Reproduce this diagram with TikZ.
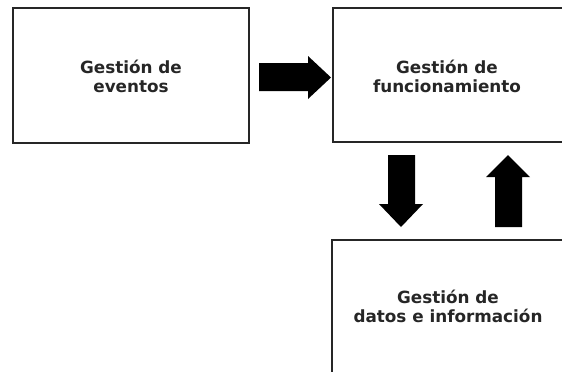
\documentclass[tikz,border=0pt]{standalone}
\usepackage{fontspec}
\setmainfont{DejaVu Sans}
\begin{document}
\begin{tikzpicture}[x=0.75pt,y=-0.75pt,
  box/.style={draw=black!85, line width=0.9pt, fill=white, rectangle, inner sep=0pt},
  label/.style={align=center, text=black!85, font=\bfseries\fontsize{12.6}{14.3}\selectfont, inner sep=0pt},
  blockarrow/.style={fill=black, draw=none}]
  \useasboundingbox (0,0) rectangle (562,372);
  \clip (0,0) rectangle (562,372);

  % three blocks (the two on the right run off the page)
  \node[box, minimum width=177pt, minimum height=101.25pt] (eventos) at (131,75.5) {};
  \node[box, minimum width=177.75pt, minimum height=100.5pt] (funcion) at (451.5,75) {};
  \node[box, minimum width=178.5pt, minimum height=105pt] (datos) at (451,310) {};

  \node[label] (teventos) at (131,76) {Gestión de\\eventos};
  \node[label] (tfuncion) at (447,76) {Gestión de\\funcionamiento};
  \node[label] (tdatos) at (448,306) {Gestión de\\datos e información};

  % block arrows between the blocks
  \fill[blockarrow] (259,63) -- (308,63) -- (308,56) -- (331,77.5) -- (308,99) -- (308,91) -- (259,91) -- cycle;
  \fill[blockarrow] (388,155) -- (415,155) -- (415,204) -- (423,204) -- (401,227) -- (379,204) -- (388,204) -- cycle;
  \fill[blockarrow] (495,227) -- (522,227) -- (522,177) -- (530,177) -- (508,155) -- (486,177) -- (495,177) -- cycle;
\end{tikzpicture}
\end{document}
